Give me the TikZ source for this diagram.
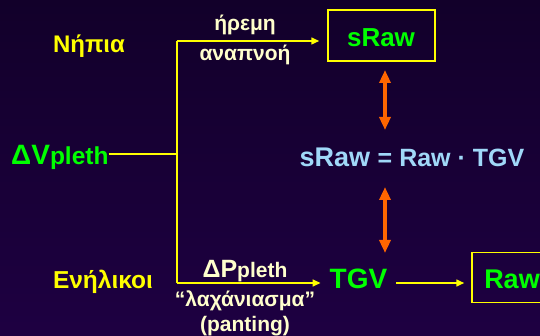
\documentclass[tikz,border=0pt]{standalone}
\usepackage{fontspec}
\setmainfont{Liberation Sans}
\usetikzlibrary{arrows.meta}
\definecolor{bgtop}{RGB}{18,0,42}
\definecolor{bgbot}{RGB}{30,0,66}
\definecolor{yel}{RGB}{255,255,0}
\definecolor{grn}{RGB}{0,255,0}
\definecolor{cream}{RGB}{255,255,204}
\definecolor{lblue}{RGB}{160,216,248}
\definecolor{orng}{RGB}{255,102,0}
\newcommand{\fs}[1]{\fontsize{#1}{#1}\selectfont}
\begin{document}
\begin{tikzpicture}[x=1pt,y=-1pt,
  txt/.style={inner sep=0pt,font=\bfseries,anchor=base},
  yellowtxt/.style={txt,text=yel},
  greentxt/.style={txt,text=grn},
  creamtxt/.style={txt,text=cream},
  boxnode/.style={draw=yel,line width=1.5pt,text=grn,font=\bfseries,inner sep=0pt},
  yline/.style={draw=yel,line width=1.5pt},
  yarrow/.style={yline,-{Triangle[length=8pt,width=7pt]}},
  oarrow/.style={draw=orng,line width=4pt,{Triangle[length=13pt,width=11pt]}-{Triangle[length=13pt,width=11pt]}}
]
\shade[top color=bgtop,bottom color=bgbot] (0,0) rectangle (540,336);
\useasboundingbox (0,0) rectangle (540,336);
\clip (0,0) rectangle (540,336);

% left labels
\node[yellowtxt] (nip) at (89,53) {\fs{24}Νήπια};
\node[yellowtxt] (enl) at (103,288) {\fs{24.5}Ενήλικοι};
\node[greentxt,anchor=base west] (dv) at (11,165) {\fs{28}ΔV\fs{24.5}pleth};

% junction lines
\coordinate (j) at (177,154);
\coordinate (jt) at (177,41);
\coordinate (jb) at (177,283);

% boxes and results
\node[boxnode,minimum width=107pt,minimum height=51pt] (sraw) at (381.5,35.5) {};
\node[greentxt] (srawt) at (381,47) {\fs{26}sRaw};
\node[greentxt] (tgv) at (358.5,288) {\fs{28}TGV};
\node[boxnode,minimum width=82pt,minimum height=50pt] (raw) at (513,277.5) {};
\node[greentxt] (rawt) at (512,288) {\fs{27}Raw};

% formula
\node[txt,text=lblue] (form) at (412,167) {\fs{27}sRaw \fs{25}= Raw · TGV};

% cream labels
\node[creamtxt] (l1) at (245,31) {\fs{21}ήρεμη};
\node[creamtxt] (l2) at (245,61) {\fs{21}αναπνοή};
\node[creamtxt] (l3) at (245,277) {\fs{25}ΔP\fs{21}pleth};
\node[creamtxt] (l4) at (245,306) {\fs{21}“λαχάνιασμα”};
\node[creamtxt] (l5) at (245,331) {\fs{21}(panting)};

% connectors
\draw[yline] (dv.east |- j) -- (j);
\draw[yline] (jt) -- (jb);
\draw[yarrow] (jt) -- ([xshift=-8pt]sraw.west |- jt);
\draw[yarrow] (jb) -- ([xshift=-9pt]tgv.west |- jb);
\draw[yarrow] ([xshift=9pt]tgv.east |- jb) -- ([xshift=-7pt]raw.west |- jb);

% orange double arrows
\coordinate (o1) at (385,70);
\coordinate (o2) at (385,130);
\coordinate (o3) at (385,187);
\coordinate (o4) at (385,253);
\draw[oarrow] (o1) -- (o2);
\draw[oarrow] (o3) -- (o4);
\end{tikzpicture}
\end{document}
